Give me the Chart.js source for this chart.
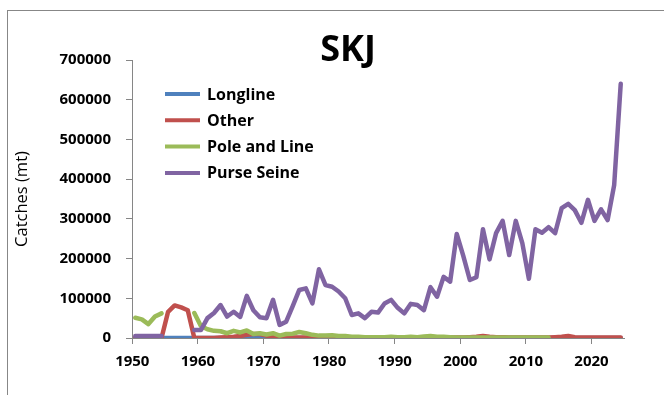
<!DOCTYPE html>
<html>
<head>
<meta charset="utf-8">
<title>SKJ catches</title>
<script src="https://cdn.jsdelivr.net/npm/chart.js@4.4.1/dist/chart.umd.min.js"></script>
<style>
  html, body { margin: 0; padding: 0; background: #fff; overflow: hidden; }
  #frame { position: absolute; left: 7px; top: 10px; width: 720px; height: 420px; border: 1px solid #878787; }
  #skjChart { position: absolute; left: 0; top: 0; }
</style>
</head>
<body>
<div id="frame"></div>
<canvas id="skjChart" width="664" height="395"></canvas>
<script>
const years = [
    1950, 1951, 1952, 1953, 1954, 1955, 1956, 1957, 1958, 1959,
    1960, 1961, 1962, 1963, 1964, 1965, 1966, 1967, 1968, 1969,
    1970, 1971, 1972, 1973, 1974, 1975, 1976, 1977, 1978, 1979,
    1980, 1981, 1982, 1983, 1984, 1985, 1986, 1987, 1988, 1989,
    1990, 1991, 1992, 1993, 1994, 1995, 1996, 1997, 1998, 1999,
    2000, 2001, 2002, 2003, 2004, 2005, 2006, 2007, 2008, 2009,
    2010, 2011, 2012, 2013, 2014, 2015, 2016, 2017, 2018, 2019,
    2020, 2021, 2022, 2023, 2024
];

// catches in tonnes, one value per year (null = no record)
const longline = [
    0, 0, 0, 0, 0, 0, 0, 0, 0, 0,
    0, 0, 0, 0, 0, 0, 0, 0, 0, 0,
    0, 0, 0, 0, 0, 0, 0, 0, 0, 0,
    0, 0, 0, 0, 0, 0, 0, 0, 0, 0,
    0, 0, 0, 0, 0, 0, 0, 0, 0, 0,
    0, 0, 0, 0, 0, 0, 0, 0, 0, 0,
    0, 0, 0, 0, 0, 0, 0, 0, 0, 0,
    0, 0, 0, 0, 0
];

const other = [
    0, 0, 0, 0, 0, 66000, 82000, 77000, 70000, 0,
    0, 0, 0, 1000, 2000, 3000, 5000, 8000, 10000, 10000,
    6000, 3000, 2000, 1000, 1000, 1000, 1000, 1000, 1000, 1000,
    1000, 1000, 1000, 1000, 1000, 1000, 1000, 1000, 1000, 1000,
    1000, 1000, 1000, 1000, 1000, 1000, 1000, 1000, 1000, 1000,
    1000, 2000, 3000, 5000, 3000, 2000, 2000, 1000, 1000, 1000,
    1000, 1000, 1000, 1000, 2000, 3000, 5000, 2000, 1000, 1000,
    1000, 1000, 1000, 1000, 1000
];

const poleAndLine = [
    51000, 47000, 35000, 54000, 62000, null, null, null, null, 63000,
    30000, 22000, 18000, 17000, 12000, 18000, 14000, 19000, 10000, 12000,
    9000, 12000, 6000, 10000, 11000, 15000, 12000, 8000, 6000, 6000,
    7000, 5000, 5000, 3000, 3000, 2000, 2000, 2000, 2000, 3000,
    2000, 2000, 3000, 2000, 4000, 5000, 3000, 3000, 2000, 1000,
    1000, 1000, 1000, 1000, 1000, 1000, 1000, 1000, 1000, 1000,
    1000, 1000, 1000, 1000, null, null, null, null, null, null,
    null, null, null, null, null
];

const purseSeine = [
    5000, 5000, 5000, 5000, 5000, null, null, null, null, 20000,
    20000, 50000, 63000, 83000, 54000, 66000, 53000, 106000, 70000, 52000,
    50000, 96000, 33000, 41000, 80000, 121000, 125000, 87000, 173000, 133000,
    129000, 117000, 100000, 58000, 62000, 50000, 66000, 64000, 87000, 96000,
    76000, 62000, 86000, 83000, 70000, 128000, 104000, 154000, 142000, 262000,
    207000, 146000, 153000, 274000, 198000, 264000, 295000, 209000, 295000, 239000,
    149000, 274000, 265000, 279000, 264000, 327000, 338000, 322000, 290000, 348000,
    295000, 324000, 297000, 385000, 640000
];

const axisGrey = '#868686';
const fontFamily = "'Open Sans', sans-serif";

// title drawn over the whole chart box
const chartTitle = {
    id: 'chartTitle',
    afterDraw(chart) {
        const ctx = chart.ctx;
        ctx.save();
        ctx.font = 'bold 36px ' + fontFamily;
        ctx.fillStyle = '#000';
        ctx.textAlign = 'center';
        ctx.textBaseline = 'alphabetic';
        ctx.fillText('SKJ', 348, 61);
        ctx.restore();
    }
};

// legend box sitting inside the plot, upper left
const insideLegend = {
    id: 'insideLegend',
    afterDatasetsDraw(chart) {
        const ctx = chart.ctx;
        const x = chart.chartArea.left + 33;
        let y = chart.chartArea.top + 34;
        ctx.save();
        ctx.font = 'bold 16px ' + fontFamily;
        ctx.textBaseline = 'middle';
        ctx.fillStyle = '#000';
        chart.data.datasets.forEach(ds => {
            ctx.strokeStyle = ds.borderColor;
            ctx.lineWidth = 4;
            ctx.lineCap = 'butt';
            ctx.beginPath();
            ctx.moveTo(x, y);
            ctx.lineTo(x + 35, y);
            ctx.stroke();
            ctx.fillText(ds.label, x + 42, y + 1);
            y += 26.3;
        });
        ctx.restore();
    }
};

function series(label, data, color, order) {
    return {
        label: label,
        data: data,
        borderColor: color,
        backgroundColor: color,
        borderWidth: 4.5,
        pointRadius: 0,
        tension: 0,
        spanGaps: false,
        borderJoinStyle: 'round',
        borderCapStyle: 'round',
        order: order
    };
}

const ctx = document.getElementById('skjChart').getContext('2d');
new Chart(ctx, {
    type: 'line',
    data: {
        labels: years,
        datasets: [
            series('Longline', longline, '#4F81BD', 3),
            series('Other', other, '#C0504D', 2),
            series('Pole and Line', poleAndLine, '#9BBB59', 1),
            series('Purse Seine', purseSeine, '#8064A2', 0)
        ]
    },
    options: {
        responsive: false,
        animation: false,
        devicePixelRatio: 1,
        layout: { padding: { top: 60, right: 40, bottom: 0, left: 0 } },
        plugins: {
            legend: { display: false },
            title: { display: false },
            tooltip: { enabled: false }
        },
        scales: {
            x: {
                type: 'category',
                offset: true,
                grid: {
                    offset: true,
                    drawOnChartArea: false,
                    tickLength: 6,
                    tickColor: c => (years[c.index] % 10 === 0 ? axisGrey : 'rgba(0,0,0,0)')
                },
                border: { color: axisGrey, width: 1 },
                ticks: {
                    autoSkip: false,
                    maxRotation: 0,
                    minRotation: 0,
                    labelOffset: -3,
                    padding: 9,
                    color: '#000',
                    font: { family: fontFamily, size: 15, weight: 'bold' },
                    callback: (v, i) => (years[i] % 10 === 0 ? String(years[i]) : '')
                },
                afterFit: s => { s.height = 57; }
            },
            y: {
                min: 0,
                max: 700000,
                grid: { drawOnChartArea: false, tickLength: 6, tickColor: axisGrey },
                border: { color: axisGrey, width: 1 },
                ticks: {
                    stepSize: 100000,
                    padding: 15,
                    color: '#000',
                    font: { family: fontFamily, size: 15, weight: 'bold' },
                    callback: v => String(v)
                },
                title: {
                    display: true,
                    text: 'Catches (mt)',
                    color: '#000',
                    font: { family: fontFamily, size: 16.5 },
                    padding: { top: 12, bottom: 0 }
                },
                afterFit: s => { s.width = 132; }
            }
        }
    },
    plugins: [chartTitle, insideLegend]
});
</script>
</body>
</html>
